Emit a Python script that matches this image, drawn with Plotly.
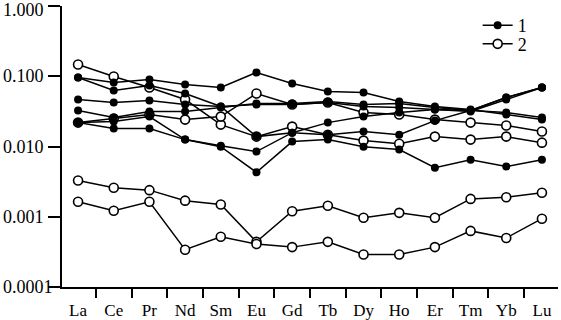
import math
import plotly.graph_objects as go

elements = ["La", "Ce", "Pr", "Nd", "Sm", "Eu", "Gd", "Tb", "Dy", "Ho", "Er", "Tm", "Yb", "Lu"]

# group 1 (filled symbols)
s1_a = [0.0968, 0.082, 0.0906, 0.0769, 0.0697, 0.114, 0.0794, 0.0611, 0.0591, 0.0439, 0.0373, 0.0338, 0.0287, 0.0243]
s1_b = [0.0968, 0.0631, 0.0744, 0.0572, 0.0373, 0.0139, 0.0158, 0.022, 0.0268, 0.0306, 0.0338, 0.0327, 0.0501, 0.0697]
s1_c = [0.0469, 0.0425, 0.0454, 0.0398, 0.0373, 0.0398, 0.0398, 0.0425, 0.0373, 0.0361, 0.0338, 0.0316, 0.0469, 0.0697]
s1_d = [0.0327, 0.026, 0.0316, 0.0316, 0.0361, 0.0412, 0.0412, 0.0439, 0.0398, 0.0412, 0.0361, 0.0327, 0.0306, 0.026]
s1_e = [0.022, 0.0228, 0.0268, 0.0126, 0.0103, 0.0085, 0.0158, 0.0148, 0.0164, 0.0148, 0.0235, 0.0327, 0.0501, 0.0697]
s1_f = [0.022, 0.0181, 0.0181, 0.0126, 0.010, 0.0043, 0.0118, 0.0126, 0.010, 0.0091, 0.005, 0.0065, 0.0052, 0.0065]

# group 2 (open symbols)
s2_a = [0.148, 0.100, 0.0697, 0.0469, 0.0206, 0.0139, 0.0193, 0.0148, 0.0122, 0.011, 0.0139, 0.0126, 0.0139, 0.0114]
s2_b = [0.022, 0.0251, 0.0287, 0.0243, 0.0268, 0.0572, 0.0398, 0.0425, 0.0306, 0.0287, 0.0243, 0.022, 0.020, 0.0164]
s2_c = [0.0033, 0.0026, 0.0024, 0.0017, 0.0015, 0.00044, 0.0012, 0.00144, 0.00097, 0.00114, 0.00097, 0.0018, 0.0019, 0.0022]
s2_d = [0.00164, 0.00122, 0.00164, 0.00034, 0.00052, 0.00041, 0.00037, 0.00044, 0.00029, 0.00029, 0.00037, 0.00063, 0.0005, 0.00094]

group1 = [s1_a, s1_b, s1_c, s1_d, s1_e, s1_f]
group2 = [s2_a, s2_b, s2_c, s2_d]

y_tickvals = [1, 0.1, 0.01, 0.001, 0.0001]
y_ticktext = ["1.000", "0.100", "0.010", "0.001", "0.0001"]

xpos = list(range(len(elements)))
FONT = "Liberation Serif"

fig = go.Figure()
for i, s in enumerate(group2):
    fig.add_trace(go.Scatter(
        x=xpos, y=s, mode="lines+markers", name="2",
        showlegend=(i == 0), legend="legend2",
        line=dict(color="black", width=1.5),
        marker=dict(symbol="circle", size=9, color="white",
                    line=dict(color="black", width=1.6)),
    ))
for i, s in enumerate(group1):
    fig.add_trace(go.Scatter(
        x=xpos, y=s, mode="lines+markers", name="1",
        showlegend=(i == 0), legend="legend",
        line=dict(color="black", width=1.5),
        marker=dict(symbol="circle", size=8, color="black"),
    ))

# y tick labels, left aligned as in the reference
for v, t in zip(y_tickvals, y_ticktext):
    fig.add_annotation(x=-0.123, xref="paper", y=math.log10(v), yref="y",
                       text=t, showarrow=False, xanchor="left", yanchor="middle",
                       yshift=(-4 if v == 1 else 0),
                       font=dict(size=18, family=FONT, color="black"))

leg_common = dict(xanchor="left", yanchor="top", bgcolor="rgba(0,0,0,0)",
                  font=dict(size=18, family=FONT), itemwidth=30)
fig.update_layout(
    width=561, height=320,
    margin=dict(l=62, r=3, t=6, b=33, autoexpand=False),
    paper_bgcolor="white", plot_bgcolor="white",
    font=dict(family=FONT, color="black", size=17),
    legend=dict(x=0.838, y=0.996, **leg_common),
    legend2=dict(x=0.838, y=0.93, **leg_common),
)
fig.update_xaxes(
    range=[-0.45, 13.45], showgrid=False, zeroline=False, automargin=False,
    showline=True, linecolor="black", linewidth=2,
    tickmode="array", tickvals=xpos, ticktext=elements, ticks="",
    tickfont=dict(size=17, family=FONT), ticklabelstandoff=7,
    minor=dict(tickmode="array", tickvals=[i + 0.5 for i in xpos[:-1]],
               ticks="outside", ticklen=9, tickwidth=2, tickcolor="black", showgrid=False),
)
fig.update_yaxes(
    type="log", range=[-4, 0.004], showgrid=False, zeroline=False, automargin=False,
    showline=True, linecolor="black", linewidth=2,
    tickmode="array", tickvals=y_tickvals, showticklabels=False,
    ticks="outside", ticklen=12, tickwidth=2, tickcolor="black",
)

fig.write_html("out.html", config={"displayModeBar": False},
               post_script="document.body.style.margin='0';document.body.style.padding='0';")
